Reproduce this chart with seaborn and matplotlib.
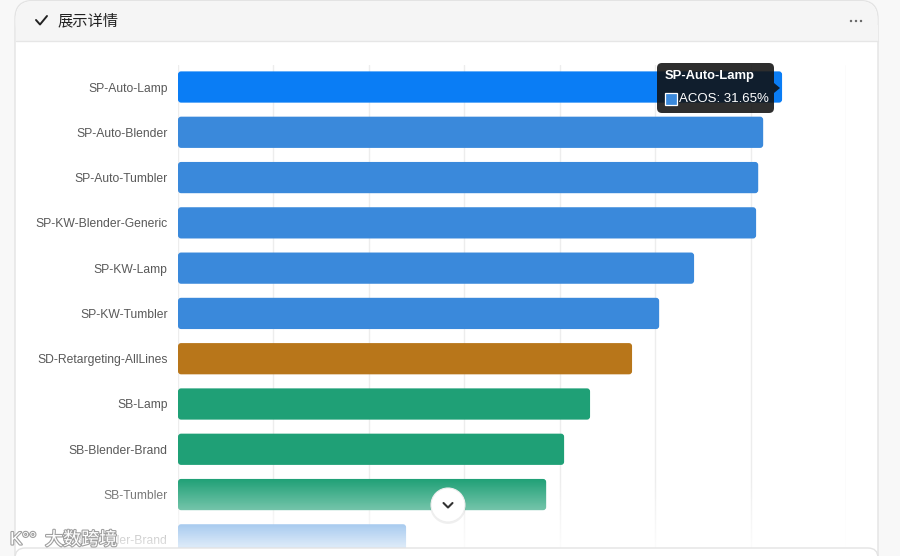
import matplotlib
matplotlib.use("Agg")
import matplotlib.pyplot as plt
import matplotlib.patheffects as pe
from matplotlib.patches import FancyBboxPatch, Circle, Polygon, Rectangle
import numpy as np
import pandas as pd
import seaborn as sns

# data (ACOS, %)
campaigns = [
    "SP-Auto-Lamp", "SP-Auto-Blender", "SP-Auto-Tumbler", "SP-KW-Blender-Generic",
    "SP-KW-Lamp", "SP-KW-Tumbler", "SD-Retargeting-AllLines", "SB-Lamp",
    "SB-Blender-Brand", "SB-Tumbler", "SB-Tumbler-Brand",
]
acos = [31.65, 30.66, 30.40, 30.29, 27.04, 25.21, 23.79, 21.59, 20.23, 19.29, 11.95]
bar_colors = [
    "#0a7df5", "#3a89db", "#3a89db", "#3a89db", "#3a89db", "#3a89db",
    "#b8761a", "#1fa076", "#1fa076", "#1fa076", "#3a89db",
]
x_ticks = [0, 5, 10, 15, 20, 25, 30, 35]
hover_name = "SP-Auto-Lamp"
hover_label = "ACOS: 31.65%"

W, H = 900, 556

sns.set_theme(style="white")
plt.rcParams["font.family"] = ["Liberation Sans", "Noto Sans CJK SC", "DejaVu Sans"]

fig = plt.figure(figsize=(W / 100, H / 100), dpi=100)
fig.patch.set_facecolor("#f8f8f8")

# background layer in pixel coordinates: card + header
bg = fig.add_axes([0, 0, 1, 1], zorder=0)
bg.set_xlim(0, W)
bg.set_ylim(H, 0)
bg.axis("off")
bg.add_patch(FancyBboxPatch((15, 0.5), 863, 600, boxstyle="round,pad=0,rounding_size=18",
                            fc="white", ec="#e3e3e3", lw=1))
bg.add_patch(FancyBboxPatch((15.5, 1), 862, 40, boxstyle="round,pad=0,rounding_size=18",
                            fc="#f5f5f5", ec="none"))
bg.add_patch(Rectangle((15.5, 25), 862, 16, fc="#f5f5f5", ec="none"))
bg.plot([15.5, 877.5], [41, 41], color="#e6e6e6", lw=1)
bg.plot([36, 40, 47], [20, 24.5, 16], color="#222222", lw=1.4, solid_capstyle="round")
bg.text(57, 21, "展示详情", fontsize=11, color="#222222", va="center",
        family=["Noto Sans CJK SC", "DejaVu Sans"])
for dx in (851, 856, 861):
    bg.add_patch(Circle((dx, 21), 1.2, fc="#666666", ec="none"))

# chart axes
ax = fig.add_axes([178 / W, 1 - 548 / H, 668 / W, 483 / H], zorder=1)
ax.patch.set_alpha(0)
df = pd.DataFrame({"campaign": campaigns, "acos": acos})
sns.barplot(data=df, x="acos", y="campaign", hue="campaign", palette=bar_colors,
            legend=False, width=0.69, ax=ax, saturation=1)

# round the bar corners
for p in list(ax.patches):
    x0, y0, w, h = p.get_x(), p.get_y(), p.get_width(), p.get_height()
    fc = p.get_facecolor()
    p.remove()
    ax.add_patch(FancyBboxPatch((x0, y0), w, h,
                                boxstyle="round,pad=0,rounding_size=0.16",
                                mutation_aspect=0.42, fc=fc, ec="none", zorder=2))

ax.set_xlim(0, 35)
ax.set_ylim(10.18, -0.486)
ax.set_xticks(x_ticks)
ax.set_xticklabels([])
ax.tick_params(axis="x", length=0)
ax.tick_params(axis="y", length=0, pad=7.5, labelsize=8.7, labelcolor="#595959")
ax.grid(axis="x", color="#ededed", lw=1)
ax.grid(axis="y", visible=False)
ax.set_axisbelow(True)
ax.set_xlabel("")
ax.set_ylabel("")
for s in ax.spines.values():
    s.set_visible(False)

# overlay: fade, scroll button, watermark, tooltip
ov = fig.add_axes([0, 0, 1, 1], zorder=5)
ov.set_xlim(0, W)
ov.set_ylim(H, 0)
ov.axis("off")
ov.patch.set_alpha(0)

ys = np.arange(460, H)
alpha = np.clip((ys - 478) / 67.0, 0, 1) * 0.82
fade = np.ones((len(ys), 1, 4))
fade[:, 0, 3] = alpha
ov.imshow(fade, extent=[16, 877, H, 460], aspect="auto", interpolation="bilinear", zorder=1)

# next card edge at the bottom
ov.add_patch(FancyBboxPatch((15, 548), 863, 40, boxstyle="round,pad=0,rounding_size=10",
                            fc="white", ec="#e3e3e3", lw=1, zorder=2))

ov.add_patch(Circle((448, 506), 18, fc="#000000", alpha=0.06, ec="none", zorder=3))
ov.add_patch(Circle((448, 505), 17, fc="white", ec="#eeeeee", lw=0.8, zorder=4))
ov.plot([443.5, 448, 452.5], [503, 507.5, 503], color="#333333", lw=1.5,
        solid_capstyle="round", zorder=5)

ov.text(10, 540, "K°°", fontsize=13, color="white", va="center", zorder=6,
        path_effects=[pe.Stroke(linewidth=1.6, foreground="#a0a0a0"), pe.Normal()])
ov.text(45, 540, "大数跨境", fontsize=13, color="white", va="center", zorder=6,
        family=["Noto Sans CJK SC", "DejaVu Sans"],
        path_effects=[pe.Stroke(linewidth=1.6, foreground="#a0a0a0"), pe.Normal()])

ov.add_patch(FancyBboxPatch((657, 63), 117, 50, boxstyle="round,pad=0,rounding_size=5",
                            fc="#111111", alpha=0.88, ec="none", zorder=7))
ov.add_patch(Polygon([[774, 83], [780, 88], [774, 93]], closed=True, fc="#111111",
                     alpha=0.88, ec="none", zorder=7))
ov.text(665, 76.5, hover_name, fontsize=9.4, fontweight="bold", color="white",
        va="center", zorder=8)
ov.add_patch(Rectangle((665, 92.5), 12, 12, fc="#3a89db", ec="white", lw=0.9, zorder=8))
ov.text(679, 98.5, hover_label, fontsize=9.5, color="white", va="center", zorder=8)

fig.savefig("out.png", dpi=100)
